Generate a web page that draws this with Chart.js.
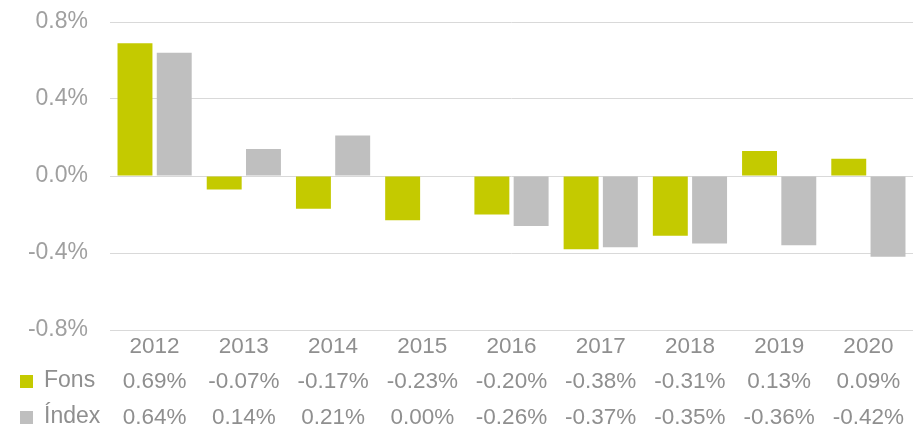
<!DOCTYPE html>
<html>
<head>
<meta charset="utf-8">
<script src="https://cdn.jsdelivr.net/npm/chart.js@4.4.0/dist/chart.umd.min.js"></script>
<style>
  html, body { margin: 0; padding: 0; background: #fff; }
  #wrap { width: 915px; height: 425px; }
</style>
</head>
<body>
<div id="wrap"><canvas id="chart" width="915" height="425"></canvas></div>
<script>
const years = ["2012", "2013", "2014", "2015", "2016", "2017", "2018", "2019", "2020"];
const fons = [0.69, -0.07, -0.17, -0.23, -0.20, -0.38, -0.31, 0.13, 0.09];
const index = [0.64, 0.14, 0.21, 0.00, -0.26, -0.37, -0.35, -0.36, -0.42];
const yTicks = [-0.8, -0.4, 0.0, 0.4, 0.8];

const textColor = "#8f8f8f";
const axisColor = "#a0a0a0";
const fontFamily = "'Liberation Sans', Arial, sans-serif";
const fonsColor = "#c4ca00";
const indexColor = "#bfbfbf";

function pct(v) {
  return v.toFixed(2) + "%";
}

// data table under the plot, drawn at the x scale's category positions
const tablePlugin = {
  id: "dataTable",
  afterDraw(chart) {
    const ctx = chart.ctx;
    const x = chart.scales.x;
    const bottom = chart.chartArea.bottom;
    ctx.save();
    ctx.font = "22.5px " + fontFamily;
    ctx.fillStyle = textColor;
    ctx.textAlign = "center";
    ctx.textBaseline = "middle";
    years.forEach((y, i) => {
      const cx = x.getPixelForValue(i);
      ctx.fillText(y, cx, bottom + 17);
      ctx.fillText(pct(fons[i]), cx, bottom + 52);
      ctx.fillText(pct(index[i]), cx, bottom + 88);
    });
    // row headers with legend squares
    ctx.textAlign = "left";
    ctx.fillStyle = fonsColor;
    ctx.fillRect(20, bottom + 45, 13, 13);
    ctx.fillStyle = indexColor;
    ctx.fillRect(20, bottom + 81, 13, 13);
    ctx.fillStyle = textColor;
    ctx.font = "23px " + fontFamily;
    ctx.fillText("Fons", 44, bottom + 51);
    ctx.fillText("Índex", 44, bottom + 87);
    ctx.restore();
  }
};

new Chart(document.getElementById("chart"), {
  type: "bar",
  data: {
    labels: years,
    datasets: [
      { label: "Fons", data: fons, backgroundColor: fonsColor },
      { label: "Índex", data: index, backgroundColor: indexColor }
    ]
  },
  options: {
    responsive: false,
    animation: false,
    layout: { padding: { top: 22, right: 2, left: 0, bottom: 0 } },
    plugins: {
      legend: { display: false },
      tooltip: { enabled: false }
    },
    datasets: {
      bar: { categoryPercentage: 0.88, barPercentage: 0.89 }
    },
    scales: {
      x: {
        grid: { display: false },
        border: { display: false },
        ticks: { display: false },
        afterFit(s) { s.height = 95; }
      },
      y: {
        min: -0.8,
        max: 0.8,
        afterFit(s) {
          s.width = 110;
          s.paddingTop = 0;
          s.paddingBottom = 0;
        },
        afterBuildTicks(s) { s.ticks = yTicks.map(v => ({ value: v })); },
        grid: { color: "#d9d9d9", lineWidth: 1, drawTicks: false },
        border: { display: false },
        ticks: {
          padding: 22,
          color: axisColor,
          font: { size: 23, family: fontFamily },
          callback: v => v.toFixed(1) + "%"
        }
      }
    }
  },
  plugins: [tablePlugin]
});
</script>
</body>
</html>
